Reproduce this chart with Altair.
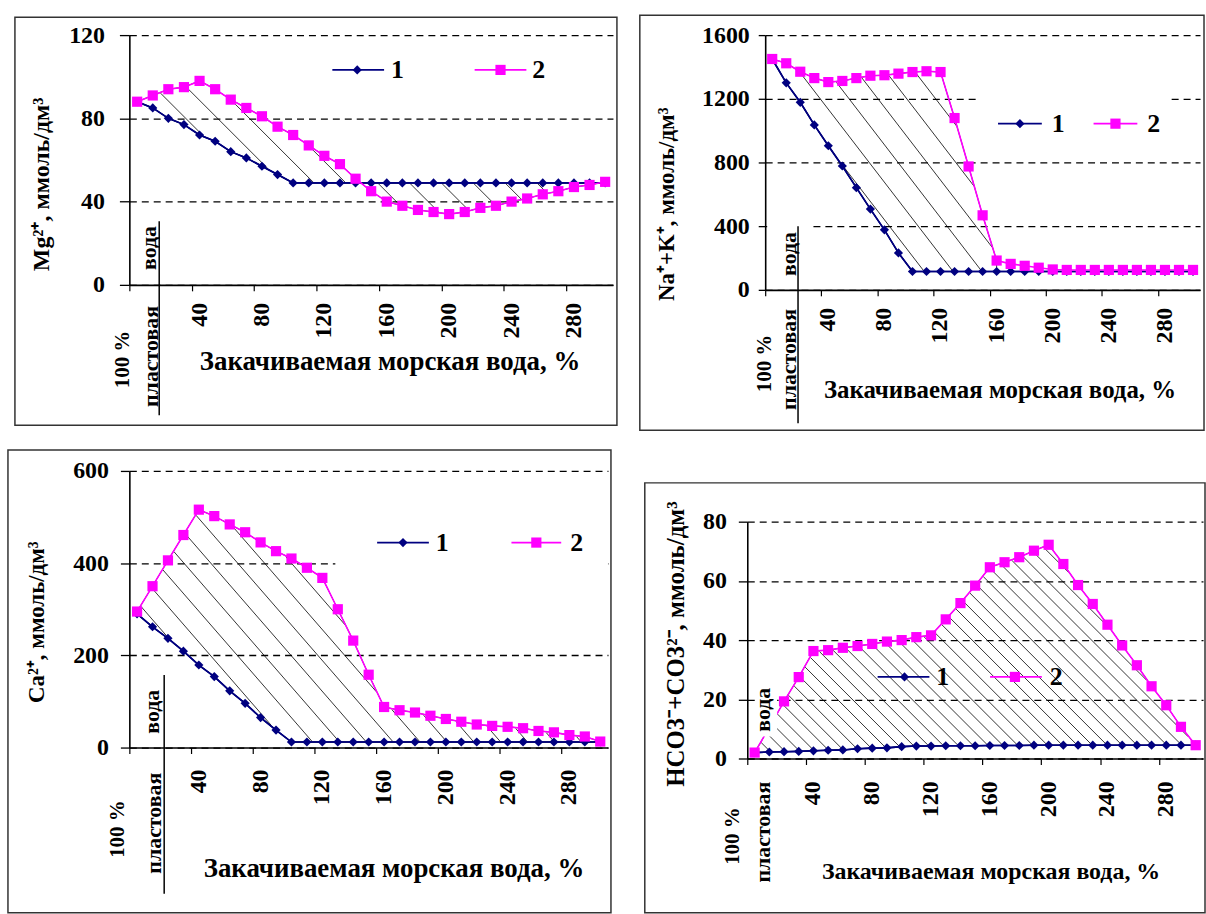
import altair as alt
import numpy as np
import pandas as pd

# ---------------- data ----------------
X_VALS = [0, 10, 20, 30, 40, 50, 60, 70, 80, 90, 100, 110, 120, 130, 140, 150,
          160, 170, 180, 190, 200, 210, 220, 230, 240, 250, 260, 270, 280, 290, 300]
X_LABELS = [40, 80, 120, 160, 200, 240, 280]

MG_1 = [88, 85, 80, 77, 72, 69, 64, 61, 57, 53, 49, 49, 49, 49, 49, 49, 49, 49, 49, 49,
        49, 49, 49, 49, 49, 49, 49, 49, 49, 49, 49]
MG_2 = [88, 91, 94, 95, 98, 94, 89, 85, 81, 76, 72, 67, 62, 58, 51, 45, 40, 38, 36, 35,
        34, 35, 37, 38, 40, 41.5, 43.5, 45, 47, 48, 49.5]

NA_1 = [1450, 1300, 1178, 1036, 905, 778, 642, 507, 377, 232, 115, 115, 115, 115, 115, 115,
        115, 115, 115, 115, 115, 115, 115, 115, 115, 115, 115, 115, 115, 115, 115]
NA_2 = [1450, 1423, 1370, 1330, 1305, 1312, 1330, 1345, 1348, 1358, 1368, 1373, 1368, 1079,
        775, 468, 184, 163, 151, 139, 128, 125, 125, 125, 125, 125, 125, 125, 125, 125, 125]

CA_1 = [290, 262, 237, 209, 179, 154, 123, 96, 65, 38, 12, 12, 12, 12, 12, 12, 12, 12, 12,
        12, 12, 12, 12, 12, 12, 12, 12, 12, 12, 12, 12]
CA_2 = [295, 350, 406, 461, 516, 502, 484, 467, 445, 426, 410, 390, 368, 300, 232, 158, 88,
        81, 76, 69, 62, 56, 50, 47, 45, 42, 36, 33, 27, 24, 13]

HC_1 = [2, 2.2, 2.3, 2.4, 2.6, 2.8, 2.9, 3.3, 3.5, 3.6, 4, 4.2, 4.2, 4.3, 4.3, 4.3, 4.4,
        4.4, 4.4, 4.5, 4.5, 4.5, 4.5, 4.5, 4.5, 4.5, 4.5, 4.5, 4.5, 4.5, 4.5]
HC_2 = [2, 10.5, 19.3, 27.5, 36.3, 36.6, 37.4, 38, 38.7, 39.5, 40, 41, 41.6, 47, 52.5, 58.4,
        64.6, 66.3, 68, 70.2, 72.2, 65.7, 58.6, 52.2, 45.2, 38.2, 31.5, 24.4, 18, 10.7, 4.5]

SERIES_NAMES = ["1", "2"]
X_TITLE = "Закачиваемая морская вода, %"

# ---------------- styling ----------------
FONT = "Liberation Serif"
NAVY = "#000080"
MAGENTA = "#FF00FF"
X_TICKS = [v - 5 for v in X_VALS] + [X_VALS[-1] + 5]
XDOM = [X_VALS[0] - 5, X_VALS[-1] + 5]

PANELS = [
    dict(s1=MG_1, s2=MG_2, ymax=120, yticks=[0, 40, 80, 120], ytitle="Mg²⁺, ммоль/дм³",
         W=486, H=251, box=(-115, -18, 490, 392), ext=(-115, -26), tick=10, lpad=15,
         ytp=(-88, 150), yfs=24, xtp=(262, 329), xlab=18, p100=(-6, 326), plast=(22, 323),
         voda=(20, 214), uline=(30, 187, 382), lbox=(2, 42, 66, 6),
         leg=dict(y=35, l1=(204, 256, 229, 263), l2=(347, 399, 373, 405)), legbox=None,
         hx=(0, 300), slope=1.0, spacing=32, xfs=27),
    dict(s1=NA_1, s2=NA_2, ymax=1600, yticks=[0, 400, 800, 1200, 1600],
         ytitle="Na⁺+K⁺, ммоль/дм³",
         W=437, H=256, box=(-126, -20, 441, 397), ext=None, tick=7, lpad=9,
         ytp=(-99, 170), yfs=23, xtp=(236, 357), xlab=18, p100=(0, 330), plast=(24, 326),
         voda=(24, 220), uline=(33, 192, 390), lbox=(2, 45, 66, 6),
         leg=dict(y=89, l1=(234, 278, 256, 288), l2=(330, 374, 352, 384)),
         legbox=(214, 406, 62, 116), hx=(0, 160), slope=1.3, spacing=29, xfs=25),
    dict(s1=CA_1, s2=CA_2, ymax=600, yticks=[0, 200, 400, 600], ytitle="Ca²⁺, ммоль/дм³",
         W=481, H=278, box=(-122, -21, 484, 444), ext=None, tick=9, lpad=12,
         ytp=(-93, 152), yfs=23, xtp=(266, 400), xlab=22, p100=(-11, 360), plast=(25, 354),
         voda=(23, 242), uline=(35, 205, 425), lbox=(2, 45, 66, 6),
         leg=dict(y=72, l1=(249, 301, 275, 308), l2=(384, 434, 409, 443)),
         legbox=(207, 481, 45, 100), hx=(0, 300), slope=1.15, spacing=27, xfs=27),
    dict(s1=HC_1, s2=HC_2, ymax=80, yticks=[0, 20, 40, 60, 80],
         ytitle="HCO3⁻+CO3²⁻, ммоль/дм³",
         W=458, H=238, box=(-103, -39, 460, 393), ext=(-109, -73), tick=9, lpad=12,
         ytp=(-72, 123), yfs=25, xtp=(245, 352), xlab=23, p100=(-14, 316), plast=(16, 312),
         voda=(16, 189), uline=None, lbox=(9, 30, 78, 22),
         leg=dict(y=156, l1=(131, 183, 158, 190), l2=(244, 296, 269, 304)), legbox=None,
         hx=(0, 300), slope=1.0, spacing=15, xfs=24),
]


def hatch_segments(s1, s2, xr, W, H, ymax, slope, spacing):
    xs = np.array(X_VALS, dtype=float)
    a = np.array(s1, dtype=float)
    b = np.array(s2, dtype=float)
    span = XDOM[1] - XDOM[0]
    u0 = (xr[0] - XDOM[0]) / span * W
    u1 = (xr[1] - XDOM[0]) / span * W
    u = np.arange(u0, u1 + 1e-9, 0.25)
    xd = u / W * span + XDOM[0]
    pa = (ymax - np.interp(xd, xs, a)) / ymax * H
    pb = (ymax - np.interp(xd, xs, b)) / ymax * H
    lo = np.minimum(pa, pb)
    hi = np.maximum(pa, pb)
    rows = []
    for c in np.arange(-H / slope - spacing, W + spacing, spacing):
        v = slope * (u - c)
        inside = (v >= lo + 0.8) & (v <= hi - 0.8)
        d = np.diff(np.concatenate([[0], inside.astype(int), [0]]))
        starts = np.flatnonzero(d == 1)
        ends = np.flatnonzero(d == -1) - 1
        for s, e in zip(starts, ends):
            if e - s < 6:
                continue
            rows.append(dict(x=xd[s], y=ymax - v[s] / H * ymax,
                             x2=xd[e], y2=ymax - v[e] / H * ymax))
    return pd.DataFrame(rows, columns=["x", "y", "x2", "y2"])


def one(text):
    return pd.DataFrame({"t": [text]})


def txt(text, x, y, size, angle=0, align="center", weight="bold"):
    return alt.Chart(one(text)).mark_text(
        font=FONT, fontSize=size, fontWeight=weight, color="black", angle=angle,
        align=align, baseline="middle").encode(
        x=alt.value(x), y=alt.value(y), text="t:N")


def rect(x1, x2, y1, y2, **kw):
    return alt.Chart(one("")).mark_rect(**kw).encode(
        x=alt.value(x1), x2=alt.value(x2), y=alt.value(y1), y2=alt.value(y2))


def make_panel(p):
    W, H, ymax = p["W"], p["H"], p["ymax"]
    xsc = alt.Scale(domain=XDOM, nice=False, zero=False)
    ysc = alt.Scale(domain=[0, ymax], nice=False, zero=False)
    df = pd.DataFrame({"x": X_VALS, "s1": p["s1"], "s2": p["s2"]})

    x_axis = alt.Axis(values=X_TICKS, labels=False, ticks=True, tickSize=6, tickWidth=1.2,
                      tickColor="black", domainColor="black", domainWidth=1.6,
                      grid=False, title=None)
    y_axis = alt.Axis(values=p["yticks"], format="d", labelFont=FONT, labelFontSize=24,
                      labelFontWeight="bold", labelColor="black", labelPadding=p["lpad"],
                      tickSize=p["tick"], tickWidth=1.3, tickColor="black",
                      domainColor="black", domainWidth=1.6, grid=True, gridColor="black",
                      gridDash=[7, 5], gridWidth=1.3, title=None)

    def X(field="x:Q", axis=False):
        if axis:
            return alt.X(field, scale=xsc, axis=x_axis)
        return alt.X(field, scale=xsc, title=None)

    def Y(field, axis=False):
        if axis:
            return alt.Y(field, scale=ysc, axis=y_axis)
        return alt.Y(field, scale=ysc, title=None)

    layers = []
    layers.append(alt.Chart(df).mark_line(color=NAVY, strokeWidth=1.6).encode(
        x=X(axis=True), y=Y("s1:Q", axis=True)))
    if p["legbox"]:
        lb = p["legbox"]
        layers.append(rect(lb[0], lb[1], lb[2], lb[3], fill="white"))
    hd = hatch_segments(p["s1"], p["s2"], p["hx"], W, H, ymax, p["slope"], p["spacing"])
    layers.append(alt.Chart(hd).mark_rule(color="black", strokeWidth=0.8).encode(
        x=X(), y=Y("y:Q"), x2="x2:Q", y2="y2:Q"))
    dfh = df[(df.x >= p["hx"][0]) & (df.x <= p["hx"][1])]
    layers.append(alt.Chart(dfh).mark_area(fillOpacity=0, stroke="black", strokeWidth=0.8).encode(
        x=X(), y=Y("s2:Q"), y2="s1:Q"))
    layers.append(alt.Chart(df).mark_line(color=NAVY, strokeWidth=1.6).encode(
        x=X(), y=Y("s1:Q")))
    layers.append(alt.Chart(df).mark_point(shape="diamond", filled=True, size=85, color=NAVY,
                                           opacity=1).encode(x=X(), y=Y("s1:Q")))
    layers.append(alt.Chart(df).mark_line(color=MAGENTA, strokeWidth=1.6).encode(
        x=X(), y=Y("s2:Q")))
    layers.append(alt.Chart(df).mark_point(shape="square", filled=True, size=105, color=MAGENTA,
                                           opacity=1).encode(x=X(), y=Y("s2:Q")))
    lbx = p["lbox"]
    layers.append(rect(lbx[0], lbx[1], H - lbx[2], H - lbx[3], fill="white"))
    layers.append(txt("100 %", p["p100"][0], p["p100"][1], 21, angle=270))
    layers.append(txt("пластовая", p["plast"][0], p["plast"][1], 22, angle=270))
    layers.append(txt("вода", p["voda"][0], p["voda"][1], 22, angle=270))
    if p["uline"]:
        ul = p["uline"]
        layers.append(alt.Chart(one("")).mark_rule(color="black", strokeWidth=1.5).encode(
            x=alt.value(ul[0]), y=alt.value(ul[1]), y2=alt.value(ul[2])))
    layers.append(alt.Chart(pd.DataFrame({"v": X_LABELS})).mark_text(
        font=FONT, fontSize=24, fontWeight="bold", color="black", angle=270,
        align="right", baseline="middle").encode(
        x=X("v:Q"), y=alt.value(H + p["xlab"]), text="v:N"))
    lg = p["leg"]
    for (x1, x2, xm, xt), col, shape, size, name in [
            (lg["l1"], NAVY, "diamond", 85, SERIES_NAMES[0]),
            (lg["l2"], MAGENTA, "square", 105, SERIES_NAMES[1])]:
        layers.append(alt.Chart(one("")).mark_rule(color=col, strokeWidth=1.8).encode(
            x=alt.value(x1), x2=alt.value(x2), y=alt.value(lg["y"])))
        layers.append(alt.Chart(one("")).mark_point(shape=shape, filled=True, size=size,
                                                    color=col, opacity=1).encode(
            x=alt.value(xm), y=alt.value(lg["y"])))
        layers.append(txt(name, xt, lg["y"], 26, align="left"))
    layers.append(txt(p["ytitle"], p["ytp"][0], p["ytp"][1], p["yfs"], angle=270))
    layers.append(txt(X_TITLE, p["xtp"][0], p["xtp"][1], p["xfs"]))
    bx = p["box"]
    if p["ext"]:
        ex, ey = p["ext"]
        layers.append(rect(ex, ex + 1, ey, ey + 1, fill="white"))
    layers.append(rect(bx[0], bx[2], bx[1], bx[3], filled=False, stroke="#333333",
                       strokeWidth=1.5))
    return alt.layer(*layers).properties(width=W, height=H)


panels = [make_panel(p) for p in PANELS]
chart = alt.concat(*panels, columns=2, spacing={"column": 21, "row": 18}, align="none",
                   bounds="full").properties(
    padding={"left": 7, "top": 7, "right": 0, "bottom": 0}, background="white"
).configure_view(strokeWidth=0)

chart.save("out.html", embed_options={"renderer": "svg", "actions": False})
